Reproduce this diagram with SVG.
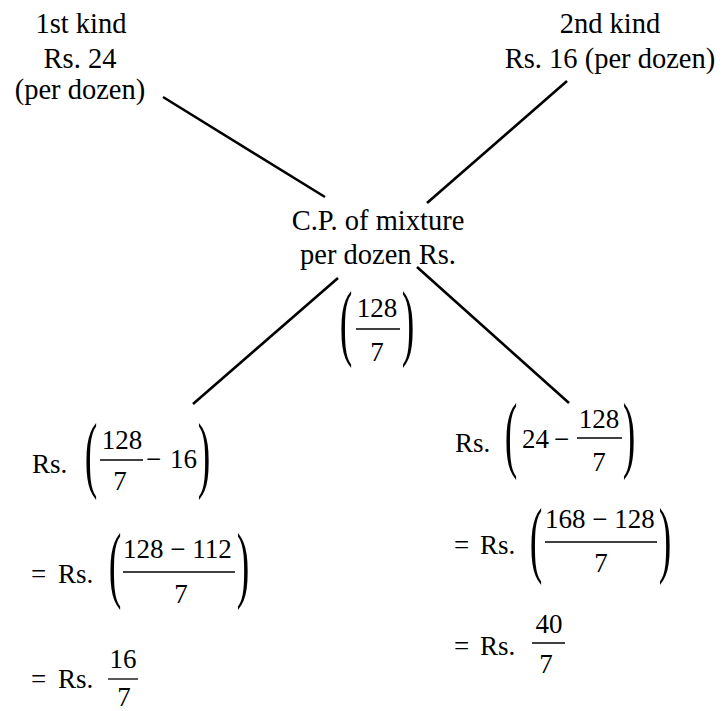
<svg xmlns="http://www.w3.org/2000/svg" width="723" height="711" viewBox="0 0 723 711">
<style>
text{font-family:"Liberation Serif","Times New Roman",serif;fill:#000}
.t{font-size:28.5px;text-anchor:middle}
.m{font-size:27px}
.c{font-size:27px;text-anchor:middle}
.p{font-size:27px;text-anchor:middle}
.bar{stroke:#000;stroke-width:1.3}
.conn line{stroke:#000;stroke-width:2.6}
</style>
<rect width="723" height="711" fill="#fff"/>
<g id="first-kind">
<text class="t" x="81" y="33">1st kind</text>
<text class="t" x="80" y="68">Rs. 24</text>
<text class="t" x="80" y="99">(per dozen)</text>
</g>
<g id="second-kind">
<text class="t" x="610" y="33">2nd kind</text>
<text class="t" x="610" y="68">Rs. 16 (per dozen)</text>
</g>
<g id="mixture">
<text class="t" x="378" y="230">C.P. of mixture</text>
<text class="t" x="378" y="264">per dozen Rs.</text>
<text class="p" transform="translate(346,329) scale(1.4,3.1)" y="6.7">(</text>
<text class="c" x="377" y="317">128</text>
<line class="bar" x1="356" y1="329" x2="400" y2="329"/>
<text class="c" x="377" y="361">7</text>
<text class="p" transform="translate(408,329) scale(1.4,3.1)" y="6.7">)</text>
</g>
<g id="left-result">
<text class="m" x="32" y="473">Rs.</text>
<text class="p" transform="translate(91,461) scale(1.4,3.1)" y="6.7">(</text>
<text class="c" x="122" y="449">128</text>
<line class="bar" x1="100" y1="460" x2="143" y2="460"/>
<text class="c" x="120" y="490">7</text>
<text class="m" x="146" y="468">−</text>
<text class="m" x="170" y="468">16</text>
<text class="p" transform="translate(204,461) scale(1.4,3.1)" y="6.7">)</text>

<text class="m" x="31" y="583">=</text>
<text class="m" x="58" y="583">Rs.</text>
<text class="p" transform="translate(115,571) scale(1.4,3.1)" y="6.7">(</text>
<text class="m" x="123" y="558">128 − 112</text>
<line class="bar" x1="123" y1="572" x2="235" y2="572"/>
<text class="c" x="181" y="603">7</text>
<text class="p" transform="translate(243,571) scale(1.4,3.1)" y="6.7">)</text>

<text class="m" x="31" y="688">=</text>
<text class="m" x="58" y="688">Rs.</text>
<text class="c" x="123" y="668">16</text>
<line class="bar" x1="108" y1="679" x2="138" y2="679"/>
<text class="c" x="124" y="706">7</text>
</g>
<g id="right-result">
<text class="m" x="455" y="452">Rs.</text>
<text class="p" transform="translate(511,441) scale(1.4,3.1)" y="6.7">(</text>
<text class="m" x="522" y="448">24</text>
<text class="m" x="554" y="448">−</text>
<text class="c" x="599" y="428">128</text>
<line class="bar" x1="577" y1="438" x2="622" y2="438"/>
<text class="c" x="599" y="471">7</text>
<text class="p" transform="translate(629,441) scale(1.4,3.1)" y="6.7">)</text>

<text class="m" x="454" y="554">=</text>
<text class="m" x="480" y="554">Rs.</text>
<text class="p" transform="translate(536,546) scale(1.4,3.1)" y="6.7">(</text>
<text class="m" x="545" y="528">168 − 128</text>
<line class="bar" x1="545" y1="542" x2="657" y2="542"/>
<text class="c" x="601" y="572">7</text>
<text class="p" transform="translate(665,546) scale(1.4,3.1)" y="6.7">)</text>

<text class="m" x="454" y="655">=</text>
<text class="m" x="480" y="655">Rs.</text>
<text class="c" x="549" y="633">40</text>
<line class="bar" x1="532" y1="643" x2="565" y2="643"/>
<text class="c" x="546" y="673">7</text>
</g>
<g id="connectors" class="conn">
<line x1="163" y1="97" x2="325" y2="197"/>
<line x1="567" y1="81" x2="427" y2="203"/>
<line x1="338" y1="278" x2="193" y2="404"/>
<line x1="417" y1="267" x2="569" y2="403"/>
</g>
</svg>
